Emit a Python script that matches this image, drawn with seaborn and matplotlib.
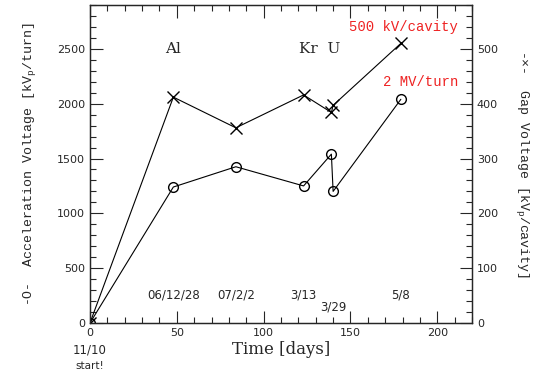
import matplotlib.pyplot as plt
import matplotlib.ticker as mt
import pandas as pd
import seaborn as sns

# days since start and voltages
days_acc = [0, 48, 84, 123, 139, 140, 179]
acc_volt = [0, 1240, 1425, 1250, 1540, 1200, 2040]   # kVp/turn
days_gap = [0, 48, 84, 123, 139, 140, 179]
gap_volt = [0, 412, 356, 416, 384, 397, 510]         # kVp/cavity

date_days = [48, 84, 123, 140, 179]
date_text = ["06/12/28", "07/2/2", "3/13", "3/29", "5/8"]
date_y = [255, 255, 255, 145, 255]

acc = pd.DataFrame({"day": days_acc, "v": acc_volt})
gap = pd.DataFrame({"day": days_gap, "v": gap_volt})

sns.set_style("ticks")
mono = "Liberation Mono"
serif = "DejaVu Serif"

fig = plt.figure(figsize=(5.34, 3.74), dpi=100)
ax = fig.add_axes([0.1685, 0.1364, 0.884 - 0.1685, 0.9866 - 0.1364])
ax2 = ax.twinx()

sns.lineplot(data=acc, x="day", y="v", sort=False, estimator=None, ax=ax,
             color="black", lw=0.8, marker="o", markersize=7,
             markerfacecolor="none", markeredgecolor="black", markeredgewidth=1)
sns.lineplot(data=gap, x="day", y="v", sort=False, estimator=None, ax=ax2,
             color="black", lw=0.8, marker="x", markersize=8,
             markeredgecolor="black", markeredgewidth=1)

ax.set_xlim(0, 220)
ax.set_ylim(0, 2900)
ax2.set_ylim(0, 580)

ax.xaxis.set_major_locator(mt.MultipleLocator(50))
ax.xaxis.set_minor_locator(mt.MultipleLocator(10))
ax.yaxis.set_major_locator(mt.MultipleLocator(500))
ax.yaxis.set_minor_locator(mt.MultipleLocator(100))
ax2.yaxis.set_major_locator(mt.MultipleLocator(100))
ax2.yaxis.set_minor_locator(mt.MultipleLocator(20))

ax.tick_params(which="both", direction="in", top=True, labelsize=8, width=0.8)
ax.tick_params(which="major", length=9)
ax.tick_params(which="minor", length=4)
ax2.tick_params(which="both", direction="in", labelsize=8, width=0.8)
ax2.tick_params(which="major", length=9)
ax2.tick_params(which="minor", length=4)
for a in (ax, ax2):
    for s in a.spines.values():
        s.set_linewidth(0.9)
        s.set_visible(True)

ax.set_xlabel("Time [days]", family=serif, fontsize=12, labelpad=2)
ax.set_ylabel(r"-O-  Acceleration Voltage [kV$_\mathregular{p}$/turn]",
              family=mono, fontsize=9.5, labelpad=14)
ax2.set_ylabel(r"-×-  Gap Voltage [kV$_\mathregular{p}$/cavity]",
               family=mono, fontsize=9.5, rotation=270, labelpad=24)

ax.text(48, 2500, "Al", family=serif, fontsize=11, ha="center", va="center")
ax.text(132, 2500, "Kr  U", family=serif, fontsize=11, ha="center", va="center")
ax.text(212, 2700, "500 kV/cavity", family=mono, fontsize=10, color="#ee2222",
        ha="right", va="center")
ax.text(212, 2200, "2 MV/turn", family=mono, fontsize=10, color="#ee2222",
        ha="right", va="center")

for d, t, yv in zip(date_days, date_text, date_y):
    ax.text(d, yv, t, family="DejaVu Sans", fontsize=8.5, ha="center", va="center")

ax.text(0, -250, "11/10", family="DejaVu Sans", fontsize=8.5, ha="center",
        va="center", clip_on=False)
ax.text(0, -390, "start!", family="DejaVu Sans", fontsize=7.5, ha="center",
        va="center", clip_on=False)

plt.savefig("out.png", dpi=100)
